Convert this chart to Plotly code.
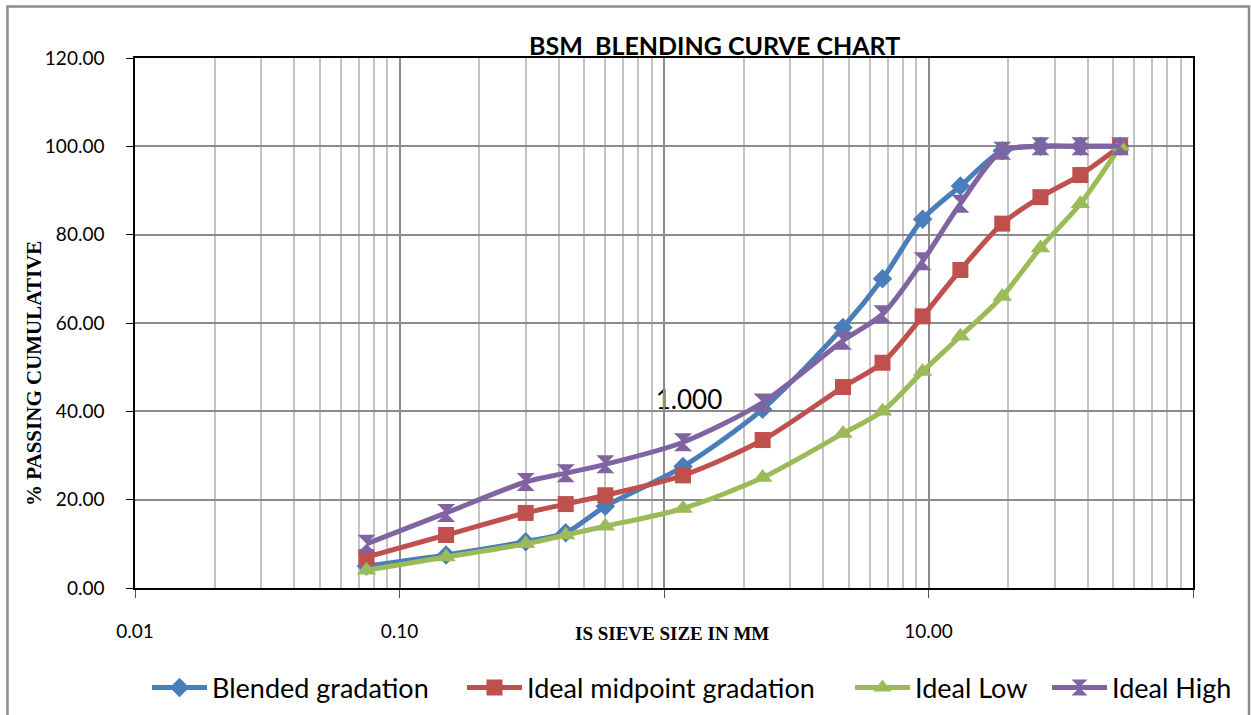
import plotly.graph_objects as go

# IS sieve sizes (mm) and cumulative % passing for each gradation
sieve_mm = [0.075, 0.15, 0.3, 0.425, 0.6, 1.18, 2.36, 4.75, 6.7, 9.5, 13.2, 19, 26.5, 37.5, 53]
blended = [5.0, 7.5, 10.5, 12.5, 18.5, 27.5, 40.5, 59.0, 70.0, 83.5, 91.0, 99.0, 100.0, 100.0, 100.0]
ideal_mid = [7.0, 12.0, 17.0, 19.0, 21.0, 25.5, 33.5, 45.5, 51.0, 61.5, 72.0, 82.5, 88.5, 93.5, 100.0]
ideal_low = [4.0, 7.0, 10.0, 12.0, 14.0, 18.0, 25.0, 35.0, 40.0, 49.0, 57.0, 66.0, 77.0, 87.0, 100.0]
ideal_high = [10.0, 17.0, 24.0, 26.0, 28.0, 33.0, 42.0, 56.0, 62.0, 74.0, 87.0, 99.0, 100.0, 100.0, 100.0]

x_tickvals = [0.01, 0.1, 1, 10, 100]
x_ticktext = ["0.01", "0.10", "", "10.00", ""]

# page geometry (px)
W, H = 1251, 715
PL, PR, PT, PB = 135, 1193, 58, 588


def px_x(px):
    return (px - PL) / (PR - PL)


def px_y(py):
    return (PB - py) / (PB - PT)


# name, values, colour, marker, marker size, legend id, legend left edge (px)
series = [
    ("Blended gradation", blended, "#4A7EBB", "diamond", 15, "legend", 147),
    ("Ideal midpoint gradation", ideal_mid, "#C0504D", "square", 16, "legend2", 462),
    ("Ideal Low", ideal_low, "#9BBB59", "triangle-up", 17, "legend3", 850),
    ("Ideal High", ideal_high, "#8064A2", "hourglass", 18, "legend4", 1047),
]

fig = go.Figure()
legends = {}
for name, vals, color, symbol, size, leg, left in series:
    fig.add_trace(go.Scatter(
        x=sieve_mm, y=vals, name=name, mode="lines+markers", legend=leg,
        line=dict(color=color, width=5, shape="spline", smoothing=0.8),
        marker=dict(symbol=symbol, size=size, color=color),
    ))
    legends[leg] = dict(orientation="h", x=px_x(left), xanchor="left",
                        y=px_y(688), yanchor="middle",
                        font=dict(family="Lato", size=27), itemwidth=55,
                        bgcolor="rgba(0,0,0,0)")

fig.update_layout(
    width=W, height=H,
    margin=dict(l=PL, r=W - PR, t=PT, b=H - PB, autoexpand=False),
    paper_bgcolor="white", plot_bgcolor="white",
    font=dict(family="Lato", size=18, color="black"),
    showlegend=True,
    **legends,
)

fig.update_xaxes(
    type="log", range=[-2, 2],
    tickvals=x_tickvals, ticktext=x_ticktext,
    ticks="outside", ticklen=8, tickcolor="#555555",
    ticklabelstandoff=17,
    showline=True, linecolor="black", linewidth=1.5, mirror=True,
    showgrid=True, gridcolor="#8C8C8C", gridwidth=1.5,
    minor=dict(dtick="D1", showgrid=True, gridcolor="#C4C4C4", gridwidth=1.5, ticks=""),
    tickfont=dict(family="Lato", size=19),
    zeroline=False,
)
fig.update_yaxes(
    range=[0, 120], dtick=20, tickformat=".2f",
    ticks="outside", ticklen=7, tickcolor="black",
    ticklabelstandoff=18,
    showline=True, linecolor="black", linewidth=1.5, mirror=True,
    showgrid=True, gridcolor="#8C8C8C", gridwidth=1.5,
    tickfont=dict(family="Lato", size=19),
    zeroline=False,
)

# outer chart frame
fig.add_shape(type="rect", xref="paper", yref="paper",
              x0=px_x(7.5), x1=px_x(1249), y0=px_y(740), y1=px_y(6.5),
              line=dict(color="#8C8C8C", width=2.5), fillcolor="rgba(0,0,0,0)", layer="below")

# stray "1.000" label box sitting over the grid, under the curves
fig.add_shape(type="rect", xref="paper", yref="paper",
              x0=px_x(643), x1=px_x(735), y0=px_y(415), y1=px_y(384),
              line=dict(width=0), fillcolor="white", layer="between",
              label=dict(text="1.000", font=dict(family="Lato", size=26, color="black"),
                         textposition="bottom center", padding=0))

fig.add_annotation(text="<b>BSM \u00a0BLENDING CURVE CHART</b>", xref="paper", yref="paper",
                   x=px_x(714), y=px_y(45), xanchor="center", yanchor="middle", showarrow=False,
                   font=dict(family="Lato", size=25, color="black"))
fig.add_annotation(text="<b>IS SIEVE SIZE IN MM</b>", xref="paper", yref="paper",
                   x=px_x(672), y=px_y(633), xanchor="center", yanchor="middle", showarrow=False,
                   font=dict(family="Liberation Serif", size=19, color="black"))
fig.add_annotation(text="<b>% PASSING CUMULATIVE</b>", xref="paper", yref="paper",
                   x=px_x(34), y=px_y(374), xanchor="center", yanchor="middle", showarrow=False,
                   textangle=-90,
                   font=dict(family="Liberation Serif", size=21, color="black"))

fig.write_html("out.html")
